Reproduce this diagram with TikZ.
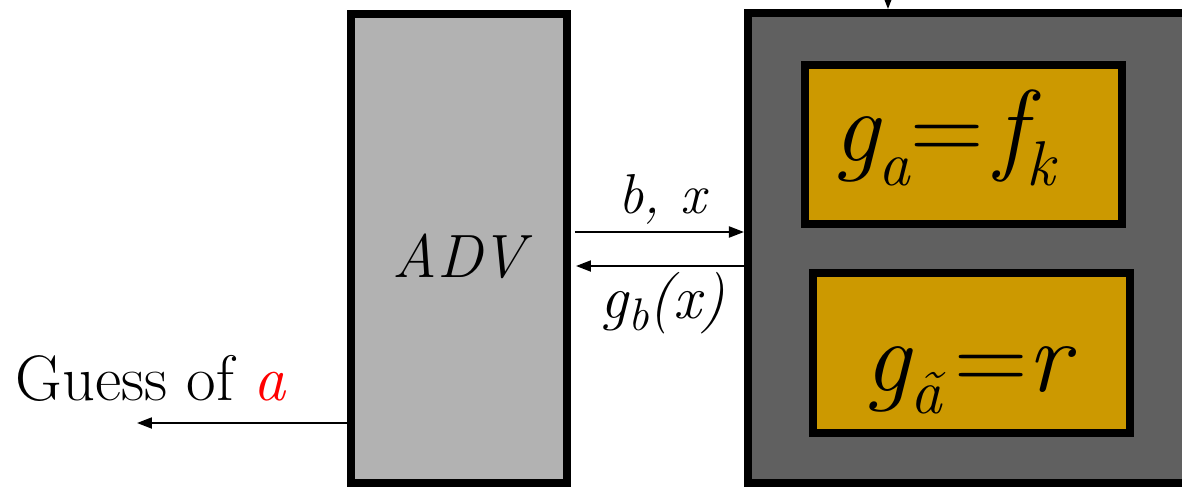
\documentclass[tikz,border=0pt]{standalone}
\usepackage{fontspec}
\usepackage{xcolor}
\usetikzlibrary{arrows.meta,positioning}
\definecolor{advFill}{HTML}{B2B2B2}
\definecolor{orFill}{HTML}{606060}
\definecolor{fnFill}{HTML}{CC9900}
\definecolor{guessRed}{HTML}{FF0000}
\newcommand{\fsz}[1]{\fontsize{#1}{#1}\selectfont}
\newcommand{\subit}[3]{\raisebox{-#1}{\fsz{#2}\itshape #3}}
\tikzset{
  ad diagram/.style={line cap=butt, line join=miter},
  ad box/.style={draw=black, line width=0.08cm, inner sep=0pt},
  ad fn box/.style={ad box, fill=fnFill, minimum width=3.17cm, minimum height=1.59cm},
  ad arrow/.style={-{Triangle[length=0.15cm, width=0.11cm]}, draw=black, line width=0.02cm},
  ad label/.style={inner sep=0pt, font=\fsz{16pt}\itshape},
  ad formula/.style={inner sep=0pt, font=\fsz{29pt}\itshape}
}
\begin{document}
\begin{tikzpicture}[ad diagram]
\clip (0,0) rectangle (11.82,4.87);
\fill[white] (0,0) rectangle (11.82,4.87);
% players
\node[ad box,fill=advFill,minimum width=2.16cm,minimum height=4.695cm] (adv) at (4.59,2.3875) {};
\node[ad box,fill=orFill,minimum width=5.52cm,minimum height=4.70cm] (oracle) at (10.24,2.39) {};
\node[ad fn box] (real) at (9.635,3.425) {};
\node[ad fn box,minimum height=1.60cm] (rand) at (9.715,1.34) {};
% texts
\node[inner sep=0pt,anchor=base,font=\fsz{17.4pt}\itshape] (advtext) at (4.59,2.10) {ADV};
\node[ad formula,anchor=base] (realtext) at (9.44,3.26)
  {g\subit{0.24cm}{18pt}{a}\upshape=\hspace{0.12cm}\itshape f\subit{0.24cm}{18pt}{k}};
\node[ad formula,anchor=base] (randtext) at (9.67,0.96)
  {g\subit{0.22cm}{18pt}{ã}\hspace{0.12cm}\upshape=\itshape r};
\node[ad label,anchor=base] (query) at (6.62,2.74) {b, x};
\node[ad label,anchor=base,font=\fsz{17.5pt}\itshape] (answer) at (6.63,1.69) {g\subit{0.12cm}{13pt}{b}(x)};
\node[inner sep=0pt,anchor=base west,font=\fsz{18.3pt}] (guess) at (0.15,0.87)
  {Guess of \textcolor{guessRed}{\itshape a}};
% connectors
\coordinate (qstart) at (5.75,2.55);
\coordinate (astart) at (7.44,2.21);
\coordinate (gend) at (1.37,0.64);
\coordinate (key) at (8.88,5.3);
\draw[ad arrow] (qstart) -- (qstart -| oracle.west);
\draw[ad arrow] (astart) -- ([xshift=0.05cm]astart -| adv.east);
\draw[ad arrow] (gend -| adv.west) -- (gend);
\draw[ad arrow] (key) -- (key |- oracle.north);
\end{tikzpicture}
\end{document}
